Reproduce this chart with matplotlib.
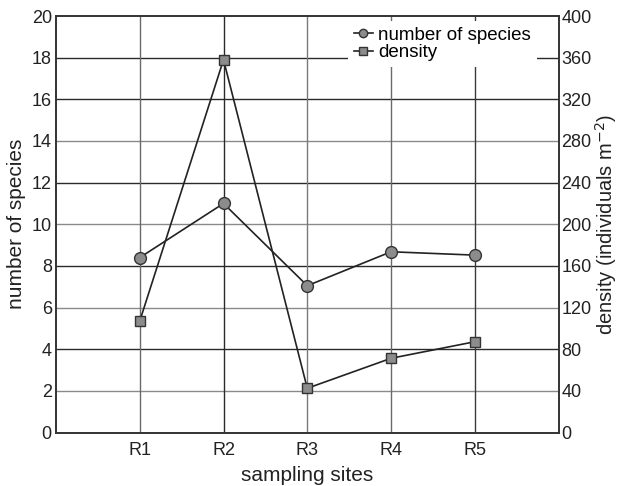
import matplotlib
matplotlib.use("Agg")
import matplotlib.pyplot as plt

sites = ["R1", "R2", "R3", "R4", "R5"]
species = [8.4, 11.0, 7.05, 8.68, 8.52]
density = [107, 358, 42.5, 71.3, 87.2]

species_ticks = list(range(0, 21, 2))
density_ticks = list(range(0, 401, 40))

plt.rcParams["font.family"] = ["Liberation Sans", "DejaVu Sans"]

fig = plt.figure(figsize=(6.22, 4.86), dpi=100)
ax = fig.add_axes([0.090, 0.110, 0.808, 0.857])
ax2 = ax.twinx()

x = list(range(1, len(sites) + 1))

# grid drawn by hand so dark / light lines can alternate like the original
for v in species_ticks[1:-1]:
    col = "#8a8a8a" if v in (2, 6, 10, 14) else "#2a2a2a"
    ax.axhline(v, color=col, lw=1.0, zorder=0)
for xi, col in zip(x, ["#6a6a6a", "#2a2a2a", "#7a7a7a", "#6a6a6a", "#3a3a3a"]):
    ax.axvline(xi, color=col, lw=1.0, zorder=0)

l1, = ax.plot(x, species, color="#222222", lw=1.2, marker="o", ms=8.5,
              mfc="#8c8c8c", mec="#333333", mew=1.0, label="number of species", zorder=3)
l2, = ax2.plot(x, density, color="#222222", lw=1.2, marker="s", ms=7,
               mfc="#8c8c8c", mec="#333333", mew=1.0, label="density", zorder=3)

ax.set_xlim(0, 6)
ax.set_ylim(0, 20)
ax2.set_ylim(0, 400)
ax.set_xticks(x)
ax.set_xticklabels(sites)
ax.set_yticks(species_ticks)
ax2.set_yticks(density_ticks)

for a in (ax, ax2):
    a.tick_params(length=0, labelsize=13, colors="#222222", pad=3)
    for s in a.spines.values():
        s.set_color("#333333")
        s.set_linewidth(1.2)
ax.tick_params(axis="x", pad=7)
ax2.tick_params(axis="y", pad=2)

ax.set_xlabel("sampling sites", fontsize=15, color="#222222", labelpad=5)
ax.set_ylabel("number of species", fontsize=15, color="#222222", labelpad=4)
ax2.set_ylabel("density (individuals m$^{-2}$)", fontsize=14.5, color="#222222", labelpad=1)

leg = ax2.legend(handles=[l1, l2], loc="upper right", bbox_to_anchor=(0.975, 1.01),
                 fontsize=13.5, handlelength=1.0, handletextpad=0.3, labelspacing=0.0,
                 borderpad=0.3, frameon=True, fancybox=False, framealpha=1.0)
leg.get_frame().set_edgecolor("none")
leg.get_frame().set_facecolor("white")
for h in leg.legend_handles:
    h.set_markersize(6)

fig.savefig("out.png", dpi=100)
